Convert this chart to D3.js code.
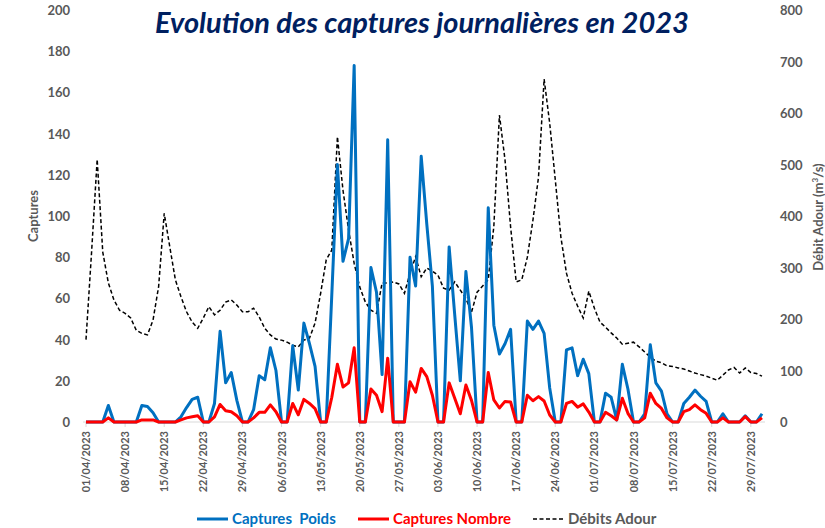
<!DOCTYPE html>
<html>
<head>
<meta charset="utf-8">
<script src="https://cdn.jsdelivr.net/npm/d3@7"></script>
<style>
  body { margin: 0; background: #fff; }
  svg text { font-family: Lato, "Open Sans", sans-serif; }
</style>
</head>
<body>
<svg id="viz"></svg>
<script>
var width = 825;
var height = 528;

// jours du 01/04/2023 au 31/07/2023
var dates = d3.timeDay.range(new Date(2023, 3, 1), new Date(2023, 7, 1));

var poids = [0,0,0,0,8,0,0,0,0,0, 8,7.5,4.5,0,0,0,0,2.5,7,11, 12,0,0,9,44,19,24,10.5,0,0,
  6,22.5,20.5,36,25,0,0,37,15.5,48, 38,27,0,0,62,125,78,89,173,0,
  0,75,63,23,137,0,0,0,80,66, 129,96,66,0,0,85,52,20,73,46,
  0,0,104,47,33,38,45,0,0,49, 45,49,43,16.5,0,0,35,36,22.5,30.5,
  23.5,0,0,14,12,1,28,16,0,0, 4,37.5,19,15,4,0,0,9,12,15.5,
  12.5,10,0,0,4,0,0,0,3,0, 0,4];

var nombre = [0,0,0,0,2,0,0,0,0,0, 1,1,1,0,0,0,0,1,2,2.5, 3,0,0,2.5,8.5,5.5,5,3,0,0,
  2,4.7,4.7,8.3,5,0,0,9,3.5,11, 9,6.5,0,0,12,28,17,19,36,0,
  0,16,13,5,31,0,0,0,19.5,14.5, 26,22,13,0,0,19,11.5,4,18,10.5,
  0,0,24,10.7,6.8,10,9.7,0,0,13, 10.3,12.3,10.2,3.4,0,0,9,10,7.2,8.8,
  4.8,0,0,4.7,3,1,11.5,4.2,0,0, 2,14,9,6.6,2,0,0,5,6,8.3,
  6,4.2,0,0,2,0,0,0,2.6,0, 0,2];

var debits = [160,330,510,330,270,237,217,211,202,178, 172,169,198,263,405,340,276,243,214,194,
  182,202,224,208,217,233,237,227,214,214, 221,204,182,169,161,159,155,149,146,159,
  163,192,250,315,334,554,450,373,308,262, 233,217,211,270,270,272,268,250,289,321,
  282,299,293,285,260,256,272,256,240,213, 252,264,276,380,596,509,379,272,276,320,
  392,476,666,580,470,359,289,250,225,202, 254,221,194,184,173,163,151,153,155,146,
  136,126,118,115,109,108,105,103,99,95, 92,89,85,81,91,101,106,95,105,96,
  94,89];

var leftTicks = d3.range(0, 201, 20);
var rightTicks = d3.range(0, 801, 100);
var fmt = d3.timeFormat("%d/%m/%Y");

var grey = "#595959";
var bleu = "#0070C0";
var rouge = "#FF0000";

var svg = d3.select("#viz").attr("width", width).attr("height", height);

var x = d3.scalePoint().domain(d3.range(dates.length)).range([86, 762]);
var yL = d3.scaleLinear().domain([0, 200]).range([422, 10]);
var yR = d3.scaleLinear().domain([0, 800]).range([422, 10]);

// titre
svg.append("text")
  .attr("x", 422).attr("y", 33)
  .attr("text-anchor", "middle")
  .style("font-size", "29px").style("font-weight", 700).style("font-style", "italic")
  .style("fill", "#002060")
  .text("Evolution des captures journalières en 2023");

// axe gauche
svg.append("g").selectAll("text").data(leftTicks).enter().append("text")
  .attr("x", 70).attr("y", function(d) { return yL(d) + 5; })
  .attr("text-anchor", "end")
  .style("font-size", "13px").style("font-weight", 700).style("fill", grey)
  .text(function(d) { return d; });

svg.append("text")
  .attr("transform", "translate(38,216) rotate(-90)")
  .attr("text-anchor", "middle")
  .style("font-size", "13px").style("font-weight", 700).style("fill", grey)
  .text("Captures");

// axe droit
svg.append("g").selectAll("text").data(rightTicks).enter().append("text")
  .attr("x", 780).attr("y", function(d) { return yR(d) + 5; })
  .style("font-size", "13px").style("font-weight", 700).style("fill", grey)
  .text(function(d) { return d; });

var rt = svg.append("text")
  .attr("transform", "translate(823,217) rotate(-90)")
  .attr("text-anchor", "middle")
  .style("font-size", "13px").style("font-weight", 700).style("fill", grey);
rt.append("tspan").text("Débit Adour (m");
rt.append("tspan").attr("dy", -5).style("font-size", "8px").text("3");
rt.append("tspan").attr("dy", 5).text("/s)");

// ligne de base + graduations
svg.append("line")
  .attr("x1", 83).attr("x2", 765).attr("y1", yL(0)).attr("y2", yL(0))
  .attr("stroke", "#d9d9d9").attr("stroke-width", 1);

var tickIdx = d3.range(0, dates.length, 7);
svg.append("g").selectAll("line").data(tickIdx).enter().append("line")
  .attr("x1", function(d) { return x(d); }).attr("x2", function(d) { return x(d); })
  .attr("y1", yL(0)).attr("y2", yL(0) + 5)
  .attr("stroke", "#d9d9d9");

svg.append("g").selectAll("text").data(tickIdx).enter().append("text")
  .attr("transform", function(d) { return "translate(" + (x(d) + 4) + ",431) rotate(-90)"; })
  .attr("text-anchor", "end")
  .style("font-size", "11px").style("font-weight", 700).style("fill", grey)
  .text(function(d) { return fmt(dates[d]); });

// courbes
var lineL = d3.line().x(function(d, i) { return x(i); }).y(function(d) { return yL(d); });
var lineR = d3.line().x(function(d, i) { return x(i); }).y(function(d) { return yR(d); });

svg.append("path").datum(debits).attr("d", lineR)
  .attr("fill", "none").attr("stroke", "#000").attr("stroke-width", 1.5)
  .attr("stroke-dasharray", "4,2.5");

svg.append("path").datum(poids).attr("d", lineL)
  .attr("fill", "none").attr("stroke", bleu).attr("stroke-width", 3)
  .attr("stroke-linejoin", "round");

svg.append("path").datum(nombre).attr("d", lineL)
  .attr("fill", "none").attr("stroke", rouge).attr("stroke-width", 3)
  .attr("stroke-linejoin", "round");

// légende
var legend = [
  {label: "Captures  Poids", color: bleu, text: bleu, x: 197, dash: null, w: 3},
  {label: "Captures Nombre", color: rouge, text: rouge, x: 358, dash: null, w: 3},
  {label: "Débits Adour", color: "#000", text: grey, x: 533, dash: "4,2.5", w: 1.5}
];
var lg = svg.append("g").selectAll("g").data(legend).enter().append("g")
  .attr("transform", function(d) { return "translate(" + d.x + ",519)"; });
lg.append("line").attr("x1", 0).attr("x2", 31).attr("y1", 0).attr("y2", 0)
  .attr("stroke", function(d) { return d.color; })
  .attr("stroke-width", function(d) { return d.w; })
  .attr("stroke-dasharray", function(d) { return d.dash; });
lg.append("text").attr("x", 35).attr("y", 5)
  .style("font-size", "15px").style("font-weight", 700)
  .style("fill", function(d) { return d.text; })
  .style("white-space", "pre")
  .text(function(d) { return d.label; });
</script>
</body>
</html>
